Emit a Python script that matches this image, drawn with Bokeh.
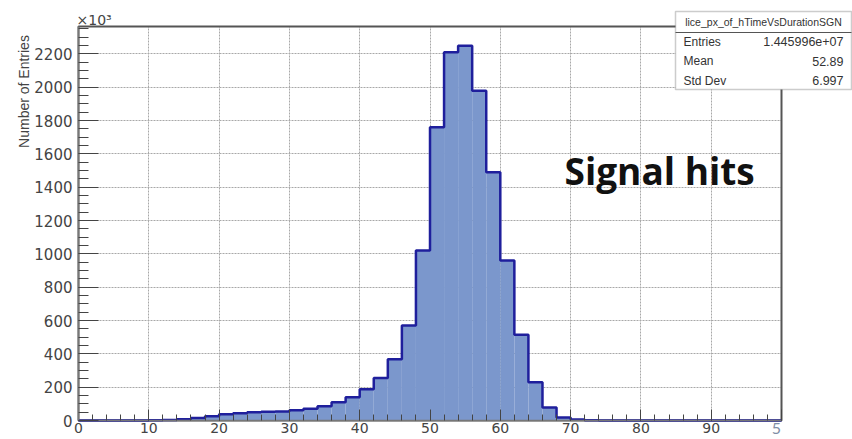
from math import pi

from bokeh.embed import file_html
from bokeh.models import BoxAnnotation, Grid, Label, SingleIntervalTicker
from bokeh.plotting import figure
from bokeh.resources import INLINE

# Histogram: bin edges every 2 units from 0 to 100, counts in units of 10^3 entries
bin_width = 2
bin_lefts = list(range(0, 100, bin_width))
counts = [
    0, 0, 0, 0, 0,            # 0-10
    1, 3, 8, 15, 25,          # 10-20
    38, 44, 50, 52, 54,       # 20-30
    62, 70, 85, 110, 140,     # 30-40
    188, 255, 367, 570, 1020,  # 40-50
    1760, 2210, 2250, 1980, 1490,  # 50-60
    960, 515, 230, 78, 18,    # 60-70
    6, 2, 0, 0, 0,            # 70-80
    0, 0, 0, 0, 0,            # 80-90
    0, 0, 0, 0, 0,            # 90-100
]
bin_rights = [l + bin_width for l in bin_lefts]

# Statistics box contents
stats_title = "lice_px_of_hTimeVsDurationSGN"
stats_names = ["Entries", "Mean", "Std Dev"]
stats_values = ["1.445996e+07", "52.89", "6.997"]

x_tick_labels = {100: ""}

X_MIN, X_MAX = 0, 100
Y_MAX = 2365

# page geometry (pixels): the plotting frame fills the canvas, the histogram
# pad sits inside it so that the stats box and side texts are not clipped
W, H = 852, 439
PAD_L, PAD_R, PAD_T, PAD_B = 78, 781, 26, 420
XS = (PAD_R - PAD_L) / (X_MAX - X_MIN)
YS = (PAD_B - PAD_T) / Y_MAX


def dx(px):
    return X_MIN + (px - PAD_L) / XS


def dy(py):
    return (PAD_B - py) / YS


FILL = "#7b97cc"
EDGE = "#1f1f9c"
GRID = "#a8a8a8"
TICK_FONT = "DejaVu Sans"
TXT = "#444444"

p = figure(
    width=W, height=H,
    x_range=(dx(0), dx(W)), y_range=(dy(H), dy(0)),
    output_backend="svg", toolbar_location=None,
    min_border=0,
)
p.background_fill_color = "white"
p.border_fill_color = "white"
p.outline_line_color = None

# pad frame
p.quad(left=X_MIN, right=X_MAX, bottom=0, top=Y_MAX,
       fill_color=None, line_color="#555555", line_width=2)

# grid, restricted to the pad
xt = SingleIntervalTicker(interval=10, num_minor_ticks=5)
yt = SingleIntervalTicker(interval=200, num_minor_ticks=4)
has_cross = "cross_bounds" in Grid.properties()
for g in (p.xgrid[0], p.ygrid[0]):
    g.grid_line_color = GRID
    g.grid_line_dash = "2 1"
    g.grid_line_width = 1
p.xgrid[0].ticker = xt
p.ygrid[0].ticker = yt
if has_cross:
    p.xgrid[0].bounds = (X_MIN, X_MAX)
    p.xgrid[0].cross_bounds = (0, Y_MAX)
    p.ygrid[0].bounds = (0, Y_MAX)
    p.ygrid[0].cross_bounds = (X_MIN, X_MAX)
else:
    p.xgrid[0].visible = False
    p.ygrid[0].visible = False
    gx = list(range(10, 100, 10))
    gy = list(range(200, Y_MAX, 200))
    p.segment(x0=gx, x1=gx, y0=0, y1=Y_MAX, line_color=GRID,
              line_dash="2 1", line_width=1)
    p.segment(x0=X_MIN, x1=X_MAX, y0=gy, y1=gy, line_color=GRID,
              line_dash="2 1", line_width=1)

# filled bars
p.quad(left=bin_lefts, right=bin_rights, bottom=0, top=counts,
       fill_color=FILL, line_color=None)

# histogram outline as a step path
step_x, step_y = [bin_lefts[0]], [0]
for l, r, c in zip(bin_lefts, bin_rights, counts):
    step_x += [l, r]
    step_y += [c, c]
step_x.append(bin_rights[-1])
step_y.append(0)
p.line(step_x, step_y, line_color=EDGE, line_width=2.5)

# axes, pinned to the pad edges
xa = p.xaxis[0]
xa.ticker = xt
xa.fixed_location = 0
xa.bounds = (X_MIN, X_MAX)
xa.major_label_overrides = x_tick_labels
ya = p.yaxis[0]
ya.ticker = yt
ya.fixed_location = X_MIN
ya.bounds = (0, Y_MAX)
for ax in (xa, ya):
    ax.axis_line_color = "#777777"
    ax.axis_line_width = 1.5
    ax.major_tick_line_color = "#444444"
    ax.minor_tick_line_color = "#444444"
    ax.major_tick_out = 0
    ax.minor_tick_out = 0
    ax.major_label_text_font = TICK_FONT
    ax.major_label_text_color = TXT
xa.major_label_text_font_size = "14px"
ya.major_label_text_font_size = "15px"
xa.major_tick_in = 11
xa.minor_tick_in = 6
xa.major_label_standoff = 2
ya.major_tick_in = 20
ya.minor_tick_in = 10
ya.major_label_standoff = 6

# axis multiplier and title
p.add_layout(Label(x=dx(76), y=dy(19), text="×10³", text_font=TICK_FONT,
                   text_font_size="14px", text_color=TXT,
                   text_baseline="middle"))
p.add_layout(Label(x=dx(23), y=dy(91), text="Number of Entries", angle=pi / 2,
                   text_font="Liberation Sans", text_font_size="14px",
                   text_color=TXT, text_align="center",
                   text_baseline="middle"))

# annotation
p.add_layout(Label(x=dx(564), y=dy(170), text="Signal hits", text_font="Open Sans",
                   text_font_style="bold", text_font_size="37px",
                   text_color="#111111", text_baseline="middle"))
p.add_layout(Label(x=dx(776), y=dy(428), text="5", text_font="Lato",
                   text_font_size="16px", text_color="#7f8ea6",
                   text_align="center", text_baseline="middle"))

# statistics box
BOX_L, BOX_R, BOX_T, BOX_B, BOX_SEP = 675, 851, 11, 89, 32
p.add_layout(BoxAnnotation(left=dx(BOX_L), right=dx(BOX_R), bottom=dy(BOX_B),
                           top=dy(BOX_T), fill_color="white", fill_alpha=1.0,
                           line_color="#555555", line_width=1.5))
p.segment(x0=dx(BOX_L), x1=dx(BOX_R), y0=dy(BOX_SEP), y1=dy(BOX_SEP),
          line_color="#555555", line_width=1.2, level="overlay")
p.add_layout(Label(x=dx((BOX_L + BOX_R) / 2), y=dy(21), text=stats_title,
                   text_font="Liberation Sans", text_font_size="10.5px",
                   text_color="#333333", text_align="center",
                   text_baseline="middle"))
for i, (name, val) in enumerate(zip(stats_names, stats_values)):
    row_y = dy(41 + i * 19.5)
    p.add_layout(Label(x=dx(683), y=row_y, text=name, text_font="Liberation Sans",
                       text_font_size="12px", text_color="#333333",
                       text_baseline="middle"))
    p.add_layout(Label(x=dx(843), y=row_y, text=val, text_font="Liberation Sans",
                       text_font_size="12.5px", text_color="#333333",
                       text_align="right", text_baseline="middle"))

open("out.html", "w").write(file_html(p, INLINE))
